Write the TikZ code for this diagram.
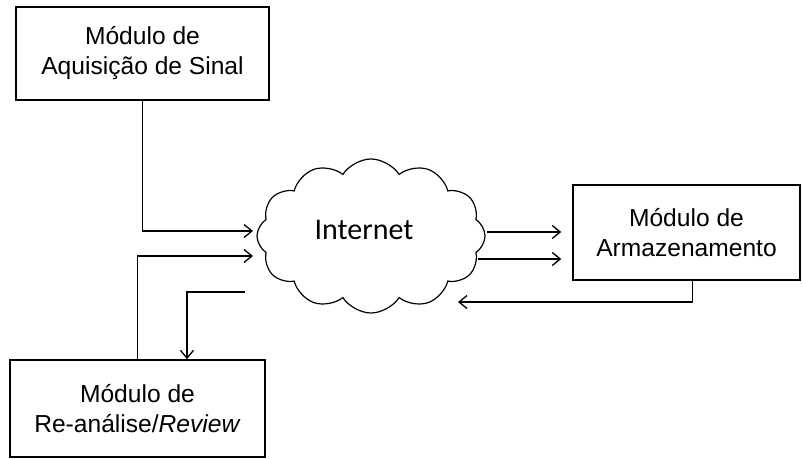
\documentclass[tikz,border=0pt]{standalone}
\usepackage{fontspec}
\setmainfont{Liberation Sans}
\newfontfamily\cloudfont{Carlito}
\usetikzlibrary{positioning,arrows.meta,shapes.symbols}

\begin{document}
\begin{tikzpicture}[
  x=0.5pt, y=-0.5pt,
  box/.style    = {draw, line width=0.7pt, align=center, font=\fontsize{12.3}{15}\selectfont,
                   inner sep=2pt},
  net/.style    = {cloud, draw, line width=0.6pt, cloud puffs=12, cloud puff arc=115,
                   minimum width=114pt, minimum height=77pt, font=\cloudfont\fontsize{15}{18}\selectfont},
  arr/.style    = {-{Straight Barb[length=4pt,width=6.5pt]}, line width=0.65pt},
]
\useasboundingbox (0,0) rectangle (803,459);

\node[box, minimum width=126.5pt, minimum height=46.5pt] (acq) at (142.5,53.5) {Módulo de\\ Aquisição de Sinal};
\node[box, minimum width=127.5pt, minimum height=48.5pt] (rev) at (137.5,408.5) {Módulo de\\ Re-análise/\textit{Review}};
\node[box, minimum width=113.5pt, minimum height=47.5pt] (arm) at (686.5,232.5) {Módulo de\\ Armazenamento};
\node[net] (net) at (371,236) {};
\node[font=\cloudfont\fontsize{15}{18}\selectfont] (netlabel) at (364,230) {Internet};

% free ends at the cloud border
\coordinate (in1)  at (253,231);
\coordinate (in2)  at (253,256);
\coordinate (out1) at (245,292);
\coordinate (out2) at (487,232);
\coordinate (out3) at (478,259);
\coordinate (in3)  at (458,302);

\draw[arr] (acq.south) |- (in1);
\draw[arr] (rev.north) |- (in2);
\draw[arr] (out1) -| ([xshift=24.75pt]rev.north);
\draw[arr, shorten >=5.5pt] (out2) -- (out2 -| arm.west);
\draw[arr, shorten >=5.5pt] (out3) -- (out3 -| arm.west);
\draw[arr] ([xshift=3pt]arm.south) |- (in3);

\end{tikzpicture}
\end{document}
